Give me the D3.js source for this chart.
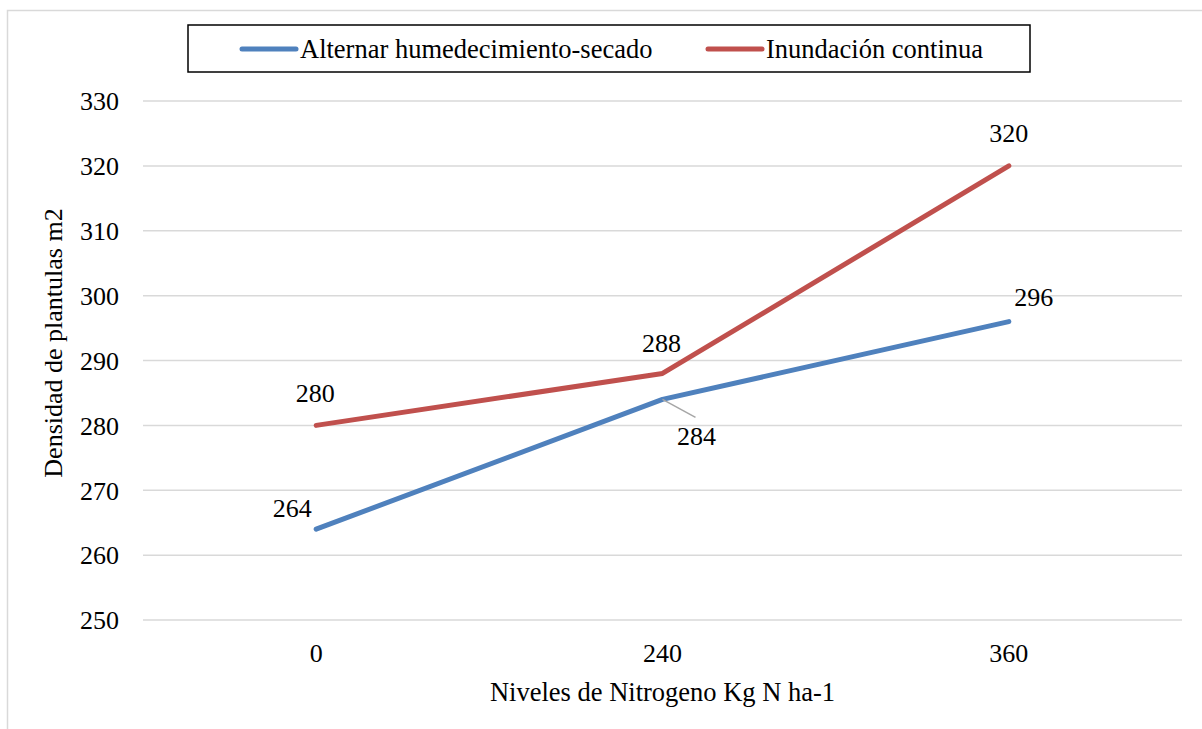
<!DOCTYPE html>
<html>
<head>
<meta charset="utf-8">
<script src="https://cdn.jsdelivr.net/npm/d3@7"></script>
</head>
<body style="margin:0;padding:0;background:#fff">
<svg id="chart" width="1202" height="729" style="display:block;font-family:'Liberation Serif'"></svg>
<script>
const categories = ["0", "240", "360"];
const seriesNames = ["Alternar humedecimiento-secado", "Inundación continua"];
const seriesAlternar = [264, 284, 296];
const seriesInundacion = [280, 288, 320];
const yTicks = [250, 260, 270, 280, 290, 300, 310, 320, 330];
const xTitle = "Niveles de Nitrogeno Kg N ha-1";
const yTitle = "Densidad de plantulas m2";

const colors = ["#4F81BD", "#C0504D"];
const series = [seriesAlternar, seriesInundacion];
const FONT = "'Liberation Serif'";

const svg = d3.select("#chart");
const W = 1202, H = 729;
const plot = { left: 143, right: 1182, top: 101, bottom: 620 };

function txt(sel, size) {
  return sel.style("font-family", FONT).style("font-size", (size || 26) + "px").attr("fill", "#000");
}

// outer chart border
svg.append("rect")
  .attr("x", 7.5).attr("y", 10.5)
  .attr("width", W + 20).attr("height", H + 20)
  .attr("fill", "none").attr("stroke", "#d9d9d9").attr("stroke-width", 1.5);

const x = d3.scaleBand().domain(categories).range([plot.left, plot.right]).padding(0);
const y = d3.scaleLinear().domain([250, 330]).range([plot.bottom, plot.top]);

// gridlines
svg.append("g").selectAll("line").data(yTicks).join("line")
  .attr("x1", plot.left).attr("x2", plot.right)
  .attr("y1", d => y(d)).attr("y2", d => y(d))
  .attr("stroke", "#d9d9d9").attr("stroke-width", 1.5);

// y axis labels
const yAxis = d3.axisLeft(y).tickValues(yTicks).tickSize(0).tickPadding(0);
const gy = svg.append("g").attr("transform", `translate(${plot.left - 24},0)`).call(yAxis);
gy.attr("font-family", null).attr("font-size", null);
gy.select(".domain").remove();
txt(gy.selectAll("text"), 26).attr("dy", "0.34em");

// x axis labels
const xAxis = d3.axisBottom(x).tickSize(0).tickPadding(0);
const gx = svg.append("g").attr("transform", `translate(0,${plot.bottom + 42})`).call(xAxis);
gx.attr("font-family", null).attr("font-size", null);
gx.select(".domain").remove();
txt(gx.selectAll("text"), 26).attr("dy", 0);

// axis titles
txt(svg.append("text"), 26.5)
  .attr("x", (plot.left + plot.right) / 2).attr("y", 701)
  .attr("text-anchor", "middle")
  .text(xTitle);
txt(svg.append("text"), 26)
  .attr("transform", `translate(62,343) rotate(-90)`)
  .attr("text-anchor", "middle")
  .text(yTitle);

// lines
const cx = c => x(c) + x.bandwidth() / 2;
const line = d3.line().x((d, i) => cx(categories[i])).y(d => y(d));
series.forEach((s, k) => {
  svg.append("path").datum(s)
    .attr("d", line)
    .attr("fill", "none").attr("stroke", colors[k])
    .attr("stroke-width", 5).attr("stroke-linecap", "round").attr("stroke-linejoin", "round");
});

// data labels (offsets in px relative to the point)
const labelOffsets = [
  [[-24, -12], [34, 46], [25, -16]],
  [[-1, -23], [-1, -21], [0, -24]]
];
// leader line for 284
{
  const px = cx(categories[1]), py = y(seriesAlternar[1]);
  svg.append("line")
    .attr("x1", px).attr("y1", py)
    .attr("x2", px + 33).attr("y2", py + 18)
    .attr("stroke", "#a6a6a6").attr("stroke-width", 1.5);
}
series.forEach((s, k) => {
  txt(svg.append("g").selectAll("text").data(s).join("text"), 26)
    .attr("x", (d, i) => cx(categories[i]) + labelOffsets[k][i][0])
    .attr("y", (d, i) => y(d) + labelOffsets[k][i][1])
    .attr("text-anchor", "middle")
    .text(d => d);
});

// legend
const lg = svg.append("g");
lg.append("rect")
  .attr("x", 188).attr("y", 25).attr("width", 842).attr("height", 47)
  .attr("fill", "#fff").attr("stroke", "#000").attr("stroke-width", 1.5);
const legendX = [242, 708];
seriesNames.forEach((n, k) => {
  lg.append("line")
    .attr("x1", legendX[k]).attr("x2", legendX[k] + 54)
    .attr("y1", 49).attr("y2", 49)
    .attr("stroke", colors[k]).attr("stroke-width", 5).attr("stroke-linecap", "round");
  txt(lg.append("text"), 26.5)
    .attr("x", legendX[k] + 58).attr("y", 58)
    .text(n);
});
</script>
</body>
</html>
